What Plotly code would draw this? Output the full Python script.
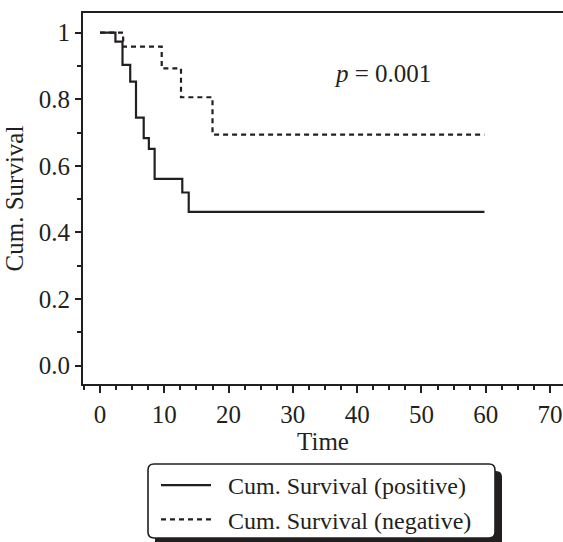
import plotly.graph_objects as go

# ---- data ----
positive_time = [0, 2.4, 3.5, 4.7, 5.6, 6.8, 7.6, 8.5, 12.8, 13.8, 59.8]
positive_surv = [1.0, 0.973, 0.903, 0.853, 0.745, 0.683, 0.651, 0.561, 0.52, 0.462, 0.462]
negative_time = [0, 3.6, 9.6, 12.6, 17.5, 59.8]
negative_surv = [1.0, 0.958, 0.893, 0.806, 0.694, 0.694]
series_names = ["Cum. Survival (positive)", "Cum. Survival (negative)"]
y_tickvals = [0, 0.2, 0.4, 0.6, 0.8, 1.0]
y_ticktext = ["0.0", "0.2", "0.4", "0.6", "0.8", "1"]
x_tickvals = [0, 10, 20, 30, 40, 50, 60, 70]
p_text = "<i>p</i> = 0.001"

INK = "#231f20"
FONT = "Liberation Serif"
FS = 25

W, H = 563, 542
ML, MR, MT, MB = 83, 0, 13, 158
PW, PH = W - ML - MR, H - MT - MB


def px_x(px):
    return (px - ML) / PW


def px_y(py):
    return (H - MB - py) / PH


def rrect(x0, y0, x1, y1, r):
    # rounded rectangle in paper coords from pixel coords
    X0, X1 = px_x(x0), px_x(x1)
    Y0, Y1 = px_y(y0), px_y(y1)  # Y0 top, Y1 bottom
    rx, ry = r / PW, r / PH
    return (f"M{X0+rx},{Y0} L{X1-rx},{Y0} Q{X1},{Y0} {X1},{Y0-ry} "
            f"L{X1},{Y1+ry} Q{X1},{Y1} {X1-rx},{Y1} L{X0+rx},{Y1} "
            f"Q{X0},{Y1} {X0},{Y1+ry} L{X0},{Y0-ry} Q{X0},{Y0} {X0+rx},{Y0} Z")


fig = go.Figure()
fig.add_trace(go.Scatter(x=positive_time, y=positive_surv, mode="lines", line_shape="hv",
                         name="\u00a0\u00a0" + series_names[0], line=dict(color=INK, width=2.2)))
fig.add_trace(go.Scatter(x=negative_time, y=negative_surv, mode="lines", line_shape="hv",
                         name="\u00a0\u00a0" + series_names[1],
                         line=dict(color=INK, width=2.2, dash="5px,4px")))

fig.add_annotation(x=43.9, y=0.877, xref="x", yref="y", text=p_text, showarrow=False,
                   font=dict(family=FONT, size=FS, color=INK))

# legend frame with shadow
fig.add_shape(type="path", xref="paper", yref="paper", path=rrect(155, 471, 502, 548, 6),
              fillcolor=INK, line=dict(width=0), layer="above")
fig.add_shape(type="path", xref="paper", yref="paper", path=rrect(148, 464, 495, 538, 6),
              fillcolor="white", line=dict(color=INK, width=1.6), layer="above")

axis_common = dict(showgrid=False, zeroline=False, showline=True, linecolor=INK, linewidth=2,
                   ticks="outside", tickcolor=INK, tickwidth=2,
                   tickfont=dict(family=FONT, size=FS, color=INK))

fig.update_xaxes(range=[-2.644, 72.02], tickvals=x_tickvals, ticklen=7, mirror=True,
                 minor=dict(dtick=2.5, tick0=0, ticks="outside", ticklen=4, tickwidth=2, tickcolor=INK),
                 title=dict(text="Time", font=dict(family=FONT, size=FS, color=INK), standoff=2),
                 **axis_common)
fig.update_yaxes(range=[-0.055, 1.059], tickvals=y_tickvals, ticktext=y_ticktext, ticklen=6,
                 minor=dict(dtick=0.1, tick0=0, ticks="outside", ticklen=4, tickwidth=2, tickcolor=INK),
                 title=dict(text="Cum. Survival", font=dict(family=FONT, size=FS, color=INK), standoff=8),
                 **axis_common)

fig.update_layout(
    width=W, height=H, margin=dict(l=ML, r=MR, t=MT, b=MB, autoexpand=False),
    paper_bgcolor="white", plot_bgcolor="white",
    font=dict(family=FONT, size=FS, color=INK),
    showlegend=True,
    legend=dict(x=px_x(156), y=px_y(463), xanchor="left", yanchor="top",
                bgcolor="rgba(0,0,0,0)", borderwidth=0, itemwidth=50,
                font=dict(family=FONT, size=24, color=INK), tracegroupgap=0),
)

fig.write_html("out.html", config={"displayModeBar": False},
               post_script="document.body.style.margin='0';document.body.style.padding='0';")
